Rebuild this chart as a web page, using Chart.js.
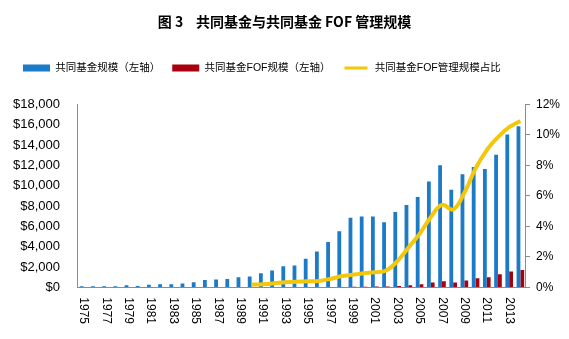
<!DOCTYPE html>
<html>
<head>
<meta charset="utf-8">
<script src="https://cdn.jsdelivr.net/npm/chart.js@4.4.1/dist/chart.umd.min.js"></script>
<style>
  body { margin: 0; background: #fff; }
</style>
</head>
<body>
<canvas id="chart" width="569" height="339"></canvas>
<script>
// years on the category axis
const years = [
    '1975', '1976', '1977', '1978', '1979', '1980', '1981', '1982', '1983', '1984',
    '1985', '1986', '1987', '1988', '1989', '1990', '1991', '1992', '1993', '1994',
    '1995', '1996', '1997', '1998', '1999', '2000', '2001', '2002', '2003', '2004',
    '2005', '2006', '2007', '2008', '2009', '2010', '2011', '2012', '2013', '2014'
];

// 共同基金规模 (left axis, $ bn)
const fundAssets = [
    110, 110, 110, 110, 200, 130, 240, 300, 290, 370,
    495, 716, 770, 810, 982, 1065, 1393, 1643, 2070, 2155,
    2811, 3526, 4468, 5525, 6846, 6965, 6975, 6390, 7414, 8107,
    8891, 10397, 12000, 9603, 11113, 11831, 11627, 13045, 15018, 15852
];

// 共同基金FOF规模 (left axis, $ bn)
const fofAssets = [
    null, null, null, null, null, null, null, null, null, null,
    null, null, null, null, null, 2, 3, 4, 7, 8,
    11, 15, 25, 40, 56, 64, 68, 70, 126, 211,
    311, 478, 600, 470, 680, 900, 1000, 1280, 1560, 1690
];

// 共同基金FOF管理规模占比 (right axis, %)
const fofShare = [
    null, null, null, null, null, null, null, null, null, null,
    null, null, null, null, null, 0.18, 0.2, 0.26, 0.33, 0.37,
    0.39, 0.42, 0.55, 0.72, 0.82, 0.92, 0.98, 1.1, 1.7, 2.6,
    3.5, 4.6, 5.4, 5.1, 6.2, 7.8, 9.0, 9.85, 10.5, 10.9
];

const FONT = '"Liberation Sans", "Noto Sans CJK SC", sans-serif';
const AXIS_GREY = '#8c8c8c';

Chart.defaults.font.family = FONT;
Chart.defaults.color = '#000';

// x labels read top-to-bottom in the original, so draw them rotated clockwise
const yearLabels = {
    id: 'yearLabels',
    afterDraw(chart) {
        const xScale = chart.scales.x;
        const ctx = chart.ctx;
        ctx.save();
        ctx.font = '12px ' + FONT;
        ctx.fillStyle = '#000';
        ctx.textAlign = 'left';
        ctx.textBaseline = 'middle';
        years.forEach((year, i) => {
            if (i % 2) return;
            ctx.save();
            ctx.translate(xScale.getPixelForValue(i), xScale.top + 10);
            ctx.rotate(Math.PI / 2);
            ctx.fillText(year, 0, 0);
            ctx.restore();
        });
        ctx.restore();
    }
};

// extra room under the legend, and nudge it right a little
const legendSpacing = {
    id: 'legendSpacing',
    beforeLayout(chart) {
        const legend = chart.legend;
        if (legend && !legend._spaced) {
            const fit = legend.fit.bind(legend);
            legend.fit = function () {
                fit();
                this.height += 21;
            };
            legend._spaced = true;
        }
    },
    afterLayout(chart) {
        if (chart.legend) {
            chart.legend.left += 8;
            chart.legend.right += 8;
        }
    }
};

new Chart(document.getElementById('chart').getContext('2d'), {
    type: 'bar',
    data: {
        labels: years,
        datasets: [
            {
                label: '共同基金规模（左轴）',
                data: fundAssets,
                backgroundColor: '#1c7bc7',
                borderWidth: 0,
                yAxisID: 'y',
                order: 1
            },
            {
                label: '共同基金FOF规模（左轴）',
                data: fofAssets,
                backgroundColor: '#a8000f',
                borderWidth: 0,
                yAxisID: 'y',
                order: 1
            },
            {
                type: 'line',
                label: '共同基金FOF管理规模占比',
                data: fofShare,
                borderColor: '#f5c70a',
                backgroundColor: '#f5c70a',
                borderWidth: 4,
                tension: 0.4,
                pointRadius: 0,
                spanGaps: false,
                yAxisID: 'y1',
                order: 0
            }
        ]
    },
    options: {
        responsive: false,
        animation: false,
        datasets: {
            bar: {
                categoryPercentage: 0.68,
                barPercentage: 1.0
            }
        },
        layout: {
            padding: { left: 3, right: 3, top: 0, bottom: 1 }
        },
        plugins: {
            title: {
                display: true,
                text: '图 3    共同基金与共同基金 FOF 管理规模',
                font: { size: 14, weight: 'bold', family: '"Noto Sans CJK SC", sans-serif' },
                color: '#000',
                padding: { top: 13, bottom: 21 }
            },
            legend: {
                position: 'top',
                align: 'start',
                labels: {
                    boxWidth: 27,
                    boxHeight: 7,
                    padding: 12,
                    font: { size: 10.5 },
                    color: '#000',
                    sort: (a, b) => a.datasetIndex - b.datasetIndex,
                    generateLabels(chart) {
                        const items = Chart.defaults.plugins.legend.labels.generateLabels(chart);
                        items.forEach(item => {
                            if (item.datasetIndex === 2) {
                                // thin the yellow swatch down to a line
                                item.strokeStyle = '#fff';
                                item.lineWidth = 4;
                                item.lineDash = [];
                            } else {
                                item.lineWidth = 0;
                            }
                        });
                        return items;
                    }
                }
            },
            tooltip: { enabled: false }
        },
        scales: {
            x: {
                offset: true,
                grid: { display: false },
                border: { display: true, color: AXIS_GREY },
                ticks: {
                    autoSkip: false,
                    minRotation: 90,
                    maxRotation: 90,
                    color: 'rgba(0,0,0,0)',
                    font: { size: 12 },
                    padding: 8,
                    callback: (value, index) => (index % 2 ? '' : years[index])
                }
            },
            y: {
                position: 'left',
                min: 0,
                max: 18000,
                grid: { display: false },
                border: { display: true, color: AXIS_GREY },
                ticks: {
                    stepSize: 2000,
                    padding: 10,
                    font: { size: 13 },
                    callback: value => '$' + value.toLocaleString('en-US')
                }
            },
            y1: {
                position: 'right',
                min: 0,
                max: 12,
                grid: {
                    display: true,
                    drawOnChartArea: false,
                    drawTicks: true,
                    tickLength: 4,
                    color: AXIS_GREY
                },
                border: { display: true, color: AXIS_GREY },
                ticks: {
                    stepSize: 2,
                    padding: 6,
                    font: { size: 12 },
                    callback: value => value + '%'
                }
            }
        }
    },
    plugins: [yearLabels, legendSpacing]
});
</script>
</body>
</html>
